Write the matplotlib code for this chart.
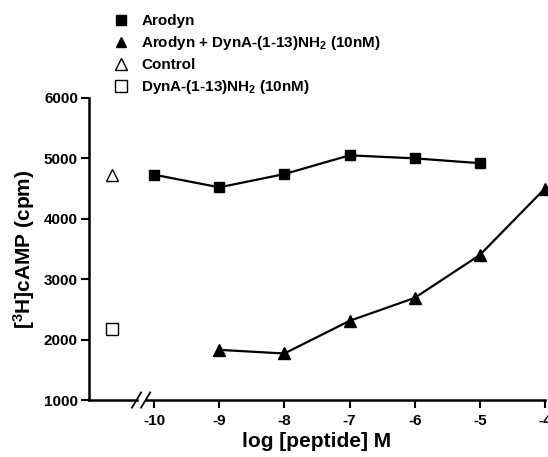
import matplotlib
matplotlib.use('Agg')
import matplotlib.pyplot as plt
from matplotlib.lines import Line2D

plt.rcParams.update({
    'font.family': ['Liberation Sans', 'DejaVu Sans'],
    'font.weight': 'bold',
    'mathtext.fontset': 'custom',
    'mathtext.rm': 'Liberation Sans:bold',
    'mathtext.it': 'Liberation Sans:bold',
    'mathtext.bf': 'Liberation Sans:bold',
    'mathtext.default': 'rm',
})

# data
log_conc = [-10, -9, -8, -7, -6, -5]
arodyn = [4730, 4520, 4740, 5050, 5000, 4920]

log_conc_combo = [-9, -8, -7, -6, -5, -4]
arodyn_dyn = [1830, 1770, 2310, 2690, 3400, 4500]

ctrl_x = -10.64
control = 4730
dyn_alone = 2170

x_ticks = [-10, -9, -8, -7, -6, -5, -4]
y_ticks = [1000, 2000, 3000, 4000, 5000, 6000]

fig = plt.figure(figsize=(5.48, 4.57), dpi=100)
ax = fig.add_axes([0.1624, 0.1247, 0.832, 0.661])

ax.plot(log_conc, arodyn, color='black', lw=1.6, marker='s', ms=7, clip_on=False)
ax.plot(log_conc_combo, arodyn_dyn, color='black', lw=1.6, marker='^', ms=8, clip_on=False)
ax.plot([ctrl_x], [control], ls='none', marker='^', ms=8, mfc='white', mec='black', mew=1.0)
ax.plot([ctrl_x], [dyn_alone], ls='none', marker='s', ms=8, mfc='white', mec='black', mew=1.0)

ax.set_xlim(-11, -4)
ax.set_ylim(1000, 6000)
ax.set_xticks(x_ticks)
ax.set_xticklabels([str(t) for t in x_ticks])
ax.set_yticks(y_ticks)

for s in ('top', 'right'):
    ax.spines[s].set_visible(False)
ax.spines['left'].set_linewidth(1.8)
ax.spines['bottom'].set_visible(False)
ax.tick_params(axis='both', width=1.5, length=6, labelsize=11, direction='out')
ax.tick_params(axis='x', pad=4)
ax.tick_params(axis='y', pad=2)

# bottom axis with a break
brk = -10.2
gap = 0.07
kw = dict(color='black', lw=1.8, clip_on=False, transform=ax.get_xaxis_transform())
ax.plot([-11, brk - gap], [0, 0], **kw)
ax.plot([brk + gap, -4], [0, 0], **kw)
for dx in (-gap, gap):
    ax.plot([brk + dx - 0.07, brk + dx + 0.07], [-0.025, 0.025], color='black', lw=1.3,
            clip_on=False, transform=ax.get_xaxis_transform())

ax.set_xlabel('log [peptide] M', fontsize=15, fontweight='bold', labelpad=3)
ax.set_ylabel('[$^3$H]cAMP (cpm)', fontsize=15, fontweight='bold', labelpad=5)

handles = [
    Line2D([], [], ls='none', marker='s', ms=7, color='black'),
    Line2D([], [], ls='none', marker='^', ms=7, color='black'),
    Line2D([], [], ls='none', marker='^', ms=8, mfc='white', mec='black'),
    Line2D([], [], ls='none', marker='s', ms=8, mfc='white', mec='black'),
]
labels = ['Arodyn', 'Arodyn + DynA-(1-13)NH$_2$ (10nM)', 'Control', 'DynA-(1-13)NH$_2$ (10nM)']
fig.legend(handles, labels, loc='upper left', bbox_to_anchor=(0.195, 0.983),
           frameon=False, fontsize=11, handlelength=1.0, handletextpad=0.85,
           labelspacing=0.4, borderaxespad=0)

plt.savefig('out.png', dpi=100)
plt.close()
